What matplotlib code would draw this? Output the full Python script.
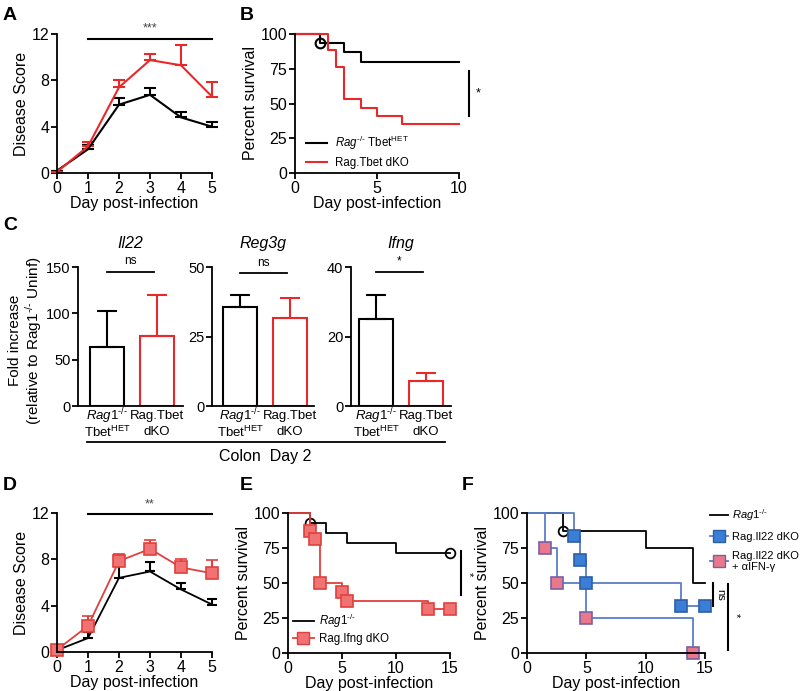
import matplotlib
matplotlib.use("Agg")
import matplotlib.pyplot as plt
from matplotlib.lines import Line2D
import numpy as np

plt.rcParams['font.family'] = ['Liberation Sans', 'DejaVu Sans']
plt.rcParams['mathtext.fontset'] = 'custom'
plt.rcParams['mathtext.rm'] = 'Liberation Sans'
plt.rcParams['mathtext.it'] = 'Liberation Sans:italic'
plt.rcParams['mathtext.bf'] = 'Liberation Sans:bold'
plt.rcParams['axes.linewidth'] = 1.3
plt.rcParams['xtick.major.width'] = 1.3
plt.rcParams['ytick.major.width'] = 1.3
plt.rcParams['xtick.major.size'] = 4
plt.rcParams['ytick.major.size'] = 4
plt.rcParams['xtick.major.pad'] = 1.5
plt.rcParams['ytick.major.pad'] = 1.5

RED = '#e8282b'
SALMON = '#f07272'
SALMON_EDGE = '#e0403c'
BLUE = '#3a7fd5'
BLUE_EDGE = '#2c5fa8'
BLUE_LINE = '#5a7ec6'
PINK = '#e8788a'
PINK_EDGE = '#7860a8'
HY = '\u2010'  # hyphen (avoid mathtext minus)
KO = HY + '/' + HY

# ---------- Data ----------
days = [0, 1, 2, 3, 4, 5]
a_het = [0.2, 2.05, 5.9, 6.75, 4.8, 4.0]
a_het_err = [0.0, 0.35, 0.6, 0.55, 0.5, 0.4]
a_dko = [0.1, 2.3, 7.4, 9.75, 9.3, 6.6]
a_dko_err = [0.0, 0.35, 0.6, 0.55, 1.75, 1.25]

b_het_t = [0, 1.5, 3, 4, 10]
b_het_s = [100, 93.3, 86.7, 80, 80]
b_het_cens_t = [1.5]
b_het_cens_s = [93.3]
b_dko_t = [0, 2, 2.5, 3, 4, 5, 6.5, 10]
b_dko_s = [100, 88.2, 76.5, 52.9, 47.1, 41.2, 35.3, 35.3]

c_genes = ['Il22', 'Reg3g', 'Ifng']
c_het = [63.5, 35.5, 25.1]
c_het_err = [39.5, 4.5, 6.7]
c_dko = [76.0, 31.7, 7.3]
c_dko_err = [43.5, 7.1, 2.2]
c_ymax = [150, 50, 40]
c_yticks = [[0, 50, 100, 150], [0, 25, 50], [0, 20, 40]]
c_sig = ['ns', 'ns', '*']
c_sig_y = [145, 47.8, 38.7]

d_het = [0.15, 1.2, 6.4, 6.95, 5.4, 4.1]
d_het_err = [0.0, 0.5, 1.0, 0.85, 0.6, 0.45]
d_dko = [0.2, 2.25, 7.85, 8.9, 7.3, 6.8]
d_dko_err = [0.0, 0.85, 0.65, 0.8, 0.75, 1.15]

e_rag_t = [0, 2, 3.5, 5.5, 10, 15]
e_rag_s = [100, 92.9, 85.7, 78.6, 71.4, 71.4]
e_rag_cens_t = [2, 15]
e_rag_cens_s = [92.9, 71.4]
e_ifng_t = [0, 2, 2.5, 3, 5, 5.5, 13, 15]
e_ifng_s = [100, 87.5, 81.25, 50, 43.75, 37.5, 31.25, 31.25]

f_rag_t = [0, 3, 10, 14, 15]
f_rag_s = [100, 87.5, 75, 50, 50]
f_rag_cens_t = [3]
f_rag_cens_s = [87.5]
f_il22_t = [0, 4, 4.5, 5, 13, 15]
f_il22_s = [100, 83.3, 66.7, 50, 33.3, 33.3]
f_ab_t = [0, 1.5, 2.5, 5, 14]
f_ab_s = [100, 75, 50, 25, 0]

W, H = 800, 691
fig = plt.figure(figsize=(8.0, 6.91), dpi=100)

TICK = 11.5
LAB = 11.5


def add_ax(x0, y0, x1, y1):
    return fig.add_axes([x0 / W, 1 - y1 / H, (x1 - x0) / W, (y1 - y0) / H])


def style(ax):
    for s in ['top', 'right']:
        ax.spines[s].set_visible(False)
    ax.tick_params(direction='out', colors='black')


def panel_label(x, y, s):
    fig.text(x / W, 1 - y / H, s, fontsize=14, fontweight='bold', ha='left', va='center')


# ---------- A ----------
axA = add_ax(57, 34, 212, 173)
style(axA)
axA.errorbar(days, a_het, yerr=[np.zeros(6), a_het_err], color='black', lw=1.5,
             capsize=4, capthick=1.5, elinewidth=1.5, clip_on=False)
axA.errorbar(days, a_dko, yerr=[np.zeros(6), a_dko_err], color=RED, lw=1.5,
             capsize=4, capthick=1.5, elinewidth=1.5, clip_on=False)
axA.set_xlim(0, 5)
axA.set_ylim(0, 12)
axA.set_xticks(days)
axA.set_yticks([0, 4, 8, 12])
axA.tick_params(labelsize=TICK)
axA.set_ylabel('Disease Score', fontsize=LAB, labelpad=2)
axA.set_xlabel('Day post-infection', fontsize=LAB, labelpad=0)
axA.plot([1, 5], [11.6, 11.6], color='black', lw=1.5, clip_on=False)
axA.text(3, 12.0, '***', ha='center', va='bottom', fontsize=9, color='#444444')

# ---------- B ----------
axB = add_ax(295, 34, 459, 173)
style(axB)
axB.step(b_het_t, b_het_s, where='post', color='black', lw=1.5, clip_on=False,
         label=r'$\it{Rag}^{' + KO + r'}$ Tbet$^{\rm HET}$')
axB.step(b_dko_t, b_dko_s, where='post', color=RED, lw=1.5, clip_on=False,
         label='Rag.Tbet dKO')
axB.plot(b_het_cens_t, b_het_cens_s, 'o', ms=7, mfc='none', mec='black', mew=1.5, clip_on=False)
axB.set_xlim(0, 10)
axB.set_ylim(0, 100)
axB.set_xticks([0, 5, 10])
axB.set_yticks([0, 25, 50, 75, 100])
axB.tick_params(labelsize=TICK)
axB.set_ylabel('Percent survival', fontsize=LAB, labelpad=2)
axB.set_xlabel('Day post-infection', fontsize=LAB, labelpad=0)
axB.legend(loc='lower left', bbox_to_anchor=(0.07, 0.03), frameon=False, fontsize=8.3,
           handlelength=1.8, handletextpad=0.7, labelspacing=0.45, borderaxespad=0, borderpad=0)
axB.plot([10.6, 10.6], [41, 73.4], color='black', lw=1.5, clip_on=False)
axB.text(11.0, 57, '*', ha='left', va='center', fontsize=9)

# ---------- C ----------
c_boxes = [(78, 183, -0.58, 1.52), (212, 314, -0.56, 1.48), (351, 451, -0.5, 1.5)]
line1 = [r'$\it{Rag1}^{' + KO + r'}$', 'Rag.Tbet']
line2 = [r'Tbet$^{\rm HET}$', 'dKO']
c_axes = []
for i, (x0, x1, xl, xr) in enumerate(c_boxes):
    ax = add_ax(x0, 267, x1, 406)
    style(ax)
    ax.bar([0], [c_het[i]], width=0.68, facecolor='white', edgecolor='black', lw=1.5)
    ax.bar([1], [c_dko[i]], width=0.68, facecolor='white', edgecolor=RED, lw=1.5)
    ax.errorbar([0], [c_het[i]], yerr=[[0], [c_het_err[i]]], fmt='none', ecolor='black',
                capsize=7, capthick=1.5, elinewidth=1.5)
    ax.errorbar([1], [c_dko[i]], yerr=[[0], [c_dko_err[i]]], fmt='none', ecolor=RED,
                capsize=7, capthick=1.5, elinewidth=1.5)
    ax.set_xlim(xl, xr)
    ax.set_ylim(0, c_ymax[i])
    ax.set_yticks(c_yticks[i])
    ax.set_xticks([])
    ax.tick_params(axis='y', labelsize=10.5)
    for k in range(2):
        ax.annotate(line1[k], xy=(k, 0), xycoords=('data', 'axes fraction'),
                    xytext=(0, -7.5), textcoords='offset points', ha='center', va='center',
                    fontsize=9.5, annotation_clip=False)
        ax.annotate(line2[k], xy=(k, 0), xycoords=('data', 'axes fraction'),
                    xytext=(0, -19), textcoords='offset points', ha='center', va='center',
                    fontsize=9.5, annotation_clip=False)
    ax.set_title(c_genes[i], fontsize=11.5, style='italic', pad=14)
    ax.plot([0, 0.93], [c_sig_y[i]] * 2, color='black', lw=1.3, clip_on=False)
    ax.text(0.46, c_sig_y[i] + c_ymax[i] * 0.03, c_sig[i], ha='center', va='bottom', fontsize=8.5)
    c_axes.append(ax)
c_axes[0].set_ylabel('Fold increase\n' + r'(relative to Rag1$^{' + KO + r'}$ Uninf)', fontsize=11,
                     linespacing=1.1)
c_axes[0].yaxis.set_label_coords(-0.32, 0.47)
fig.add_artist(Line2D([87 / W, 445 / W], [1 - 442 / H, 1 - 442 / H], color='black', lw=1.3))
fig.text(265 / W, 1 - 456 / H, 'Colon  Day 2', ha='center', va='center', fontsize=11.5)

# ---------- D ----------
axD = add_ax(57, 513, 212, 652)
style(axD)
axD.errorbar(days, d_het, yerr=[np.zeros(6), d_het_err], color='black', lw=1.3,
             capsize=3.5, capthick=1.5, elinewidth=1.5, clip_on=False)
axD.errorbar(days, d_dko, yerr=[np.zeros(6), d_dko_err], color=SALMON_EDGE, lw=1.3,
             capsize=4, capthick=1.5, elinewidth=1.5, marker='s', ms=8,
             mfc=SALMON, mec=SALMON_EDGE, mew=1.2, clip_on=False)
axD.set_xlim(0, 5)
axD.set_ylim(0, 12)
axD.set_xticks(days)
axD.set_yticks([0, 4, 8, 12])
axD.tick_params(labelsize=TICK)
axD.set_ylabel('Disease Score', fontsize=LAB, labelpad=2)
axD.set_xlabel('Day post-infection', fontsize=LAB, labelpad=0)
axD.plot([1, 5], [11.9, 11.9], color='black', lw=1.5, clip_on=False)
axD.text(3, 12.2, '**', ha='center', va='bottom', fontsize=9, color='#444444')

# ---------- E ----------
axE = add_ax(288, 513, 450, 653)
style(axE)
axE.step(e_rag_t, e_rag_s, where='post', color='black', lw=1.3, clip_on=False)
axE.plot(e_rag_cens_t, e_rag_cens_s, 'o', ms=7, mfc='none', mec='black', mew=1.3, clip_on=False)
axE.step(e_ifng_t, e_ifng_s, where='post', color=SALMON_EDGE, lw=1.3, clip_on=False)
axE.plot(e_ifng_t[1:], e_ifng_s[1:], 's', ms=8, mfc=SALMON, mec=SALMON_EDGE, mew=1.2, clip_on=False)
axE.set_xlim(0, 15)
axE.set_ylim(0, 100)
axE.set_xticks([0, 5, 10, 15])
axE.set_yticks([0, 25, 50, 75, 100])
axE.tick_params(labelsize=TICK)
axE.set_ylabel('Percent survival', fontsize=LAB, labelpad=2)
axE.set_xlabel('Day post-infection', fontsize=LAB, labelpad=0)
hE = [Line2D([], [], color='black', lw=1.3),
      Line2D([], [], color=SALMON_EDGE, lw=1.3, marker='s', ms=8, mfc=SALMON, mec=SALMON_EDGE)]
axE.legend(hE, [r'$\it{Rag1}^{' + KO + r'}$', 'Rag.Ifng dKO'], loc='lower left',
           bbox_to_anchor=(0.03, 0.06), frameon=False, fontsize=8.3, handlelength=1.8,
           handletextpad=0.5, labelspacing=0.25, numpoints=1, borderaxespad=0, borderpad=0)
axE.plot([16.0, 16.0], [41.2, 72.6], color='black', lw=1.5, clip_on=False)
axE.text(16.7, 56, '*', ha='center', va='center', fontsize=8, rotation=270)

# ---------- F ----------
axF = add_ax(527, 513, 705, 653)
style(axF)
axF.step(f_rag_t, f_rag_s, where='post', color='black', lw=1.3, clip_on=False)
axF.plot(f_rag_cens_t, f_rag_cens_s, 'o', ms=7, mfc='none', mec='black', mew=1.3, clip_on=False)
axF.step(f_il22_t, f_il22_s, where='post', color=BLUE_LINE, lw=1.3, clip_on=False)
axF.step(f_ab_t, f_ab_s, where='post', color=BLUE_LINE, lw=1.3, clip_on=False)
axF.plot(f_il22_t[1:], f_il22_s[1:], 's', ms=8, mfc=BLUE, mec=BLUE_EDGE, mew=1.2, clip_on=False)
axF.plot(f_ab_t[1:], f_ab_s[1:], 's', ms=8, mfc=PINK, mec=PINK_EDGE, mew=1.2, clip_on=False)
axF.set_xlim(0, 15)
axF.set_ylim(0, 100)
axF.set_xticks([0, 5, 10, 15])
axF.set_yticks([0, 25, 50, 75, 100])
axF.tick_params(labelsize=TICK)
axF.set_ylabel('Percent survival', fontsize=LAB, labelpad=2)
axF.set_xlabel('Day post-infection', fontsize=LAB, labelpad=0)
hF = [Line2D([], [], color='black', lw=1.3),
      Line2D([], [], color=BLUE_LINE, lw=1.3, marker='s', ms=8, mfc=BLUE, mec=BLUE_EDGE),
      Line2D([], [], color=BLUE_LINE, lw=1.3, marker='s', ms=8, mfc=PINK, mec=PINK_EDGE)]
fig.legend(hF, [r'$\it{Rag1}^{' + KO + r'}$', 'Rag.Il22 dKO', 'Rag.Il22 dKO\n+ \u03b1IFN-\u03b3'],
           loc='upper left', bbox_to_anchor=(710 / W, 1 - 507 / H), frameon=False, fontsize=8,
           handlelength=1.6, handletextpad=0.4, labelspacing=0.8, numpoints=1,
           borderpad=0, borderaxespad=0)
axF.plot([15.67, 15.67], [33.8, 50], color='black', lw=1.5, clip_on=False)
axF.text(16.3, 41.5, 'ns', ha='center', va='center', fontsize=8, rotation=270)
axF.plot([16.9, 16.9], [1.9, 49.5], color='black', lw=1.5, clip_on=False)
axF.text(17.6, 27, '*', ha='center', va='center', fontsize=8, rotation=270)

# ---------- panel labels ----------
panel_label(3, 16, 'A')
panel_label(240, 16, 'B')
panel_label(3, 225, 'C')
panel_label(3, 485, 'D')
panel_label(240, 485, 'E')
panel_label(462, 485, 'F')

fig.savefig('out.png', dpi=100)
